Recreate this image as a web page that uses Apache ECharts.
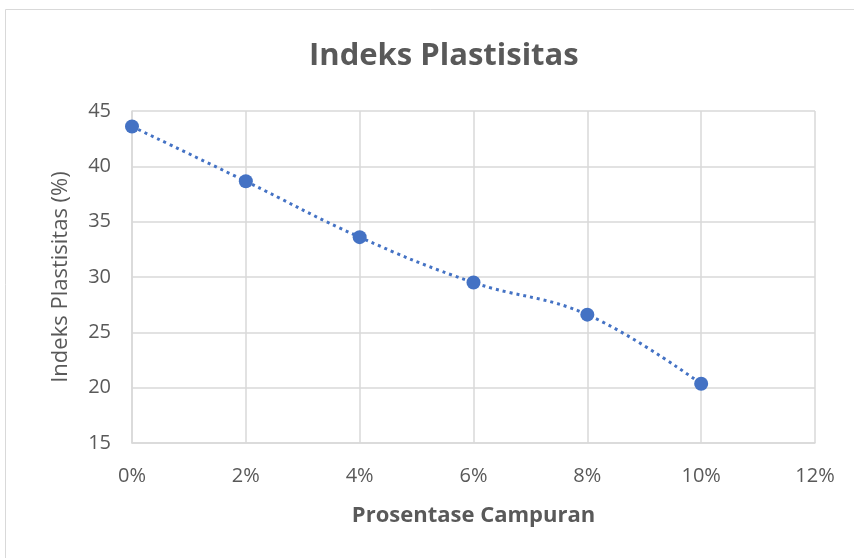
<!DOCTYPE html>
<html>
<head>
<meta charset="utf-8">
<script src="https://cdn.jsdelivr.net/npm/echarts@6/dist/echarts.min.js"></script>
<style>
  html, body { margin: 0; padding: 0; background: #fff; }
  #chart { width: 854px; height: 558px; }
</style>
</head>
<body>
<div id="chart"></div>
<script>
// campuran (%) vs indeks plastisitas (%)
const campuran = [0, 2, 4, 6, 8, 10];
const indeksPlastisitas = [43.6, 38.65, 33.6, 29.5, 26.6, 20.35];

const textColor = "#595959";
const gridColor = "#d9d9d9";
const fontFamily = "'Open Sans', 'Liberation Sans', sans-serif";

const chart = echarts.init(document.getElementById("chart"));

chart.setOption({
  backgroundColor: "#fff",
  animation: false,
  title: {
    text: "Indeks Plastisitas",
    left: 304,
    top: 36,
    textStyle: {
      color: textColor,
      fontSize: 31,
      fontWeight: "bold",
      fontFamily: fontFamily,
    },
  },
  grid: {
    left: 132,
    right: 39,
    top: 111,
    bottom: 115,
  },
  xAxis: {
    type: "value",
    min: 0,
    max: 12,
    interval: 2,
    name: "Prosentase Campuran",
    nameLocation: "middle",
    nameGap: 62,
    nameTextStyle: {
      color: textColor,
      fontSize: 22,
      fontWeight: "bold",
      fontFamily: fontFamily,
    },
    axisLine: { show: true, lineStyle: { color: gridColor, width: 1.5 } },
    axisTick: { show: false },
    axisLabel: {
      formatter: "{value}%",
      color: textColor,
      fontSize: 20,
      margin: 23,
      fontFamily: fontFamily,
    },
    splitLine: { show: true, lineStyle: { color: gridColor, width: 1.5 } },
  },
  yAxis: {
    type: "value",
    min: 15,
    max: 45,
    interval: 5,
    name: "Indeks Plastisitas (%)",
    nameLocation: "middle",
    nameGap: 60,
    nameTextStyle: {
      color: textColor,
      fontSize: 22,
      fontFamily: fontFamily,
    },
    axisLine: { show: true, lineStyle: { color: gridColor, width: 1.5 } },
    axisTick: { show: false },
    axisLabel: {
      color: textColor,
      fontSize: 20,
      margin: 21,
      fontFamily: fontFamily,
    },
    splitLine: { show: true, lineStyle: { color: gridColor, width: 1.5 } },
  },
  graphic: [
    {
      type: "rect",
      shape: { x: 5.5, y: 9.5, width: 860, height: 560 },
      style: { fill: "none", stroke: "#d9d9d9", lineWidth: 1 },
      silent: true,
    },
  ],
  series: [
    {
      type: "line",
      data: campuran.map((c, i) => [c, indeksPlastisitas[i]]),
      smooth: 0.4,
      symbol: "circle",
      symbolSize: 14,
      lineStyle: { color: "#4472C4", width: 3, type: [3, 4] },
      itemStyle: { color: "#4472C4" },
    },
  ],
});
</script>
</body>
</html>
